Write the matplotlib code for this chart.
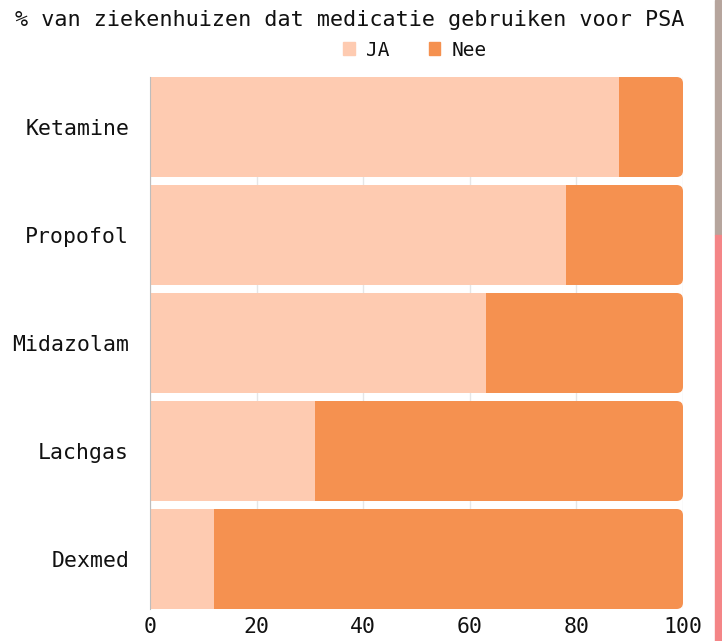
import matplotlib.pyplot as plt
from matplotlib.patches import FancyBboxPatch, Rectangle

medications = ["Ketamine", "Propofol", "Midazolam", "Lachgas", "Dexmed"]
ja_pct = [88, 78, 63, 31, 12]
nee_pct = [12, 22, 37, 69, 88]

color_ja = "#FECBB1"
color_nee = "#F59150"

plt.rcParams["font.family"] = ["DejaVu Sans Mono"]

fig = plt.figure(figsize=(7.22, 6.41), dpi=100)
ax = fig.add_axes([150 / 722, 1 - 609 / 641, 533 / 722, 532 / 641])

bar_h = 100 / 108
for i, (name, ja, nee) in enumerate(zip(medications, ja_pct, nee_pct)):
    # full bar with rounded right end, then square JA part on top
    box = FancyBboxPatch(
        (0, i - bar_h / 2), ja + nee, bar_h,
        boxstyle="round,pad=0,rounding_size=1.2",
        mutation_aspect=0.049,
        facecolor=color_nee, edgecolor="none", zorder=2,
    )
    ax.add_patch(box)
    ax.barh(i, ja, height=bar_h, left=0, color=color_ja, zorder=3)

ax.set_xlim(0, 100)
ax.set_ylim(len(medications) - 1 + bar_h / 2, -bar_h / 2)
ax.set_yticks(range(len(medications)))
ax.set_yticklabels(medications, fontsize=15.5, color="#111111")
ax.set_xticks([0, 20, 40, 60, 80, 100])
ax.tick_params(axis="x", labelsize=15.5, length=0, pad=6, labelcolor="#111111")
ax.tick_params(axis="y", length=0, pad=15)
ax.grid(axis="x", color="#e6e6e6", linewidth=1, zorder=0)
for side in ["top", "right", "bottom"]:
    ax.spines[side].set_visible(False)
ax.spines["left"].set_color("#bdbdbd")
ax.spines["left"].set_zorder(4)

fig.text(15 / 722, 1 - 20 / 641, "% van ziekenhuizen dat medicatie gebruiken voor PSA",
         fontsize=15.7, ha="left", va="center", color="#111111")

handles = [Rectangle((0, 0), 1, 1, color=color_ja), Rectangle((0, 0), 1, 1, color=color_nee)]
fig.legend(handles, ["JA", "Nee"], loc="center", bbox_to_anchor=(415 / 722, 1 - 50 / 641),
           ncol=2, frameon=False, fontsize=14, handlelength=0.6, handleheight=0.6,
           handletextpad=0.6, columnspacing=2.0, labelcolor="#111111")

# scrollbar strip at the right edge
fig.patches.append(Rectangle((715 / 722, 1 - 235 / 641), 6 / 722, 235 / 641,
                             transform=fig.transFigure, color="#b6a59d", zorder=0))
fig.patches.append(Rectangle((715 / 722, 0), 6 / 722, 1 - 235 / 641,
                             transform=fig.transFigure, color="#f48587", zorder=0))

fig.savefig("out.png", dpi=100, facecolor="white")
